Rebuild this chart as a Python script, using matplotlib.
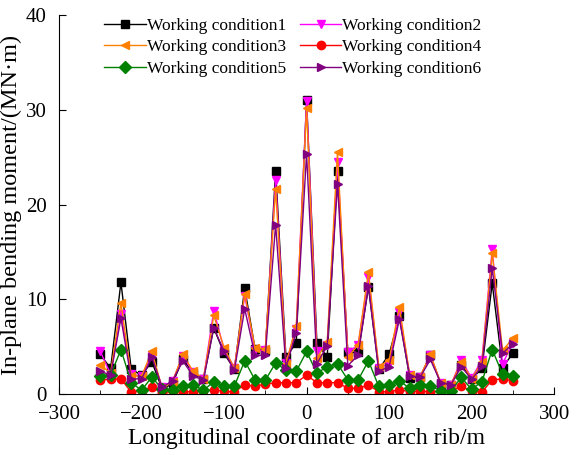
import numpy as np
import matplotlib
matplotlib.use("Agg")
import matplotlib.pyplot as plt
from matplotlib.ticker import MultipleLocator

plt.rcParams['font.family'] = ['Liberation Serif', 'DejaVu Serif']
plt.rcParams['mathtext.fontset'] = 'stix'

x = [-250 + 12.5 * k for k in range(41)]

wc1 = [4.2, 2.7, 11.8, 2.6, 2.0, 3.4, 0.5, 1.1, 3.7, 2.2, 1.6,
       7.0, 4.3, 2.6, 11.2, 4.8, 4.5, 23.6, 3.9, 5.4, 31.1, 5.4, 3.9,
       23.6, 4.4, 4.4, 11.3, 2.6, 4.2, 8.2, 1.7, 1.8, 4.1, 1.1, 1.0,
       3.1, 1.6, 2.7, 11.7, 2.8, 4.3]
wc2 = [4.5, 2.1, 8.5, 2.1, 1.9, 4.1, 0.7, 1.4, 4.0, 2.3, 1.6,
       8.8, 4.7, 2.8, 10.4, 4.6, 4.6, 22.6, 3.3, 6.9, 31.0, 4.5, 5.2,
       24.5, 4.4, 5.2, 12.4, 2.8, 3.2, 8.7, 2.0, 1.8, 4.1, 1.2, 1.0,
       3.6, 1.7, 3.6, 15.3, 3.2, 5.4]
wc3 = [3.1, 2.2, 9.6, 1.9, 1.9, 4.5, 0.6, 1.3, 4.2, 2.4, 1.6,
       8.3, 4.9, 2.7, 10.6, 4.9, 4.8, 21.7, 3.2, 7.2, 30.2, 3.8, 5.5,
       25.6, 3.9, 5.2, 12.9, 2.9, 3.6, 9.2, 2.0, 1.8, 4.2, 1.2, 1.0,
       3.4, 1.6, 3.4, 14.9, 4.6, 5.9]
wc4 = [1.5, 1.55, 1.6, 0.2, 0.3, 0.75, 0.15, 0.25, 0.25, 0.25, 0.35,
       0.45, 0.3, 0.2, 1.0, 0.8, 1.05, 1.2, 1.2, 1.2, 2.0, 1.2, 1.2,
       1.2, 0.6, 0.6, 0.95, 0.25, 0.25, 0.45, 0.25, 0.3, 0.25, 0.3, 0.3,
       0.8, 0.3, 0.2, 1.5, 1.6, 1.4]
wc5 = [1.9, 2.0, 4.7, 1.2, 0.4, 1.8, 0.5, 0.45, 0.9, 0.95, 0.4,
       1.3, 0.85, 0.85, 3.5, 1.5, 1.45, 3.3, 2.5, 2.4, 4.5, 2.2, 2.9,
       3.2, 1.5, 1.5, 3.5, 0.8, 0.95, 1.4, 0.6, 0.95, 0.85, 0.35, 0.35,
       1.75, 0.5, 1.3, 4.7, 2.1, 1.9]
wc6 = [2.4, 2.0, 8.0, 1.6, 1.6, 3.9, 0.7, 1.4, 3.5, 1.9, 1.5,
       7.0, 4.5, 2.5, 9.0, 4.1, 4.1, 17.9, 2.8, 6.5, 25.4, 3.2, 5.1,
       22.2, 3.0, 4.1, 11.4, 2.4, 2.9, 7.9, 1.9, 1.75, 3.65, 1.2, 1.0,
       2.9, 1.55, 2.95, 13.3, 4.3, 5.3]

labels = ['Working condition1', 'Working condition2', 'Working condition3',
          'Working condition4', 'Working condition5', 'Working condition6']
series = [wc1, wc2, wc3, wc4, wc5, wc6]
colors = ['black', '#FF00FF', '#FF8000', '#FF0000', '#008000', '#800080']
markers = ['s', 'v', '<', 'o', 'D', '>']

fig = plt.figure(figsize=(5.79, 4.55), dpi=100)
ax = fig.add_axes([0.102, 0.134, 0.855, 0.832])

handles = []
for y, lab, c, m in zip(series, labels, colors, markers):
    h, = ax.plot(x, y, color=c, marker=m, markersize=6, linewidth=1.0, label=lab)
    handles.append(h)

ax.set_xlim(-300, 300)
ax.set_ylim(0, 40)
ax.xaxis.set_major_locator(MultipleLocator(100))
ax.xaxis.set_minor_locator(MultipleLocator(50))
ax.yaxis.set_major_locator(MultipleLocator(10))
ax.tick_params(axis='both', which='both', direction='in', labelsize=15)
ax.tick_params(which='major', length=5)
ax.tick_params(which='minor', length=3)
ax.tick_params(axis='x', which='major', pad=8)
ax.tick_params(axis='y', which='major', pad=9)
ax.spines['top'].set_visible(False)
ax.spines['right'].set_visible(False)

ax.set_xlabel('Longitudinal coordinate of arch rib/m', fontsize=17, labelpad=3)
ax.set_ylabel('In-plane bending moment/(MN·m)', fontsize=17.5, labelpad=3)

order = [0, 2, 4, 1, 3, 5]
ax.legend([handles[i] for i in order], [labels[i] for i in order], ncol=2,
          frameon=False, fontsize=12.5, loc='upper left', bbox_to_anchor=(0.07, 1.022),
          handlelength=2.4, handletextpad=0.05, columnspacing=0.8, labelspacing=0.32,
          borderaxespad=0.2)

fig.savefig('out.png', dpi=100)
